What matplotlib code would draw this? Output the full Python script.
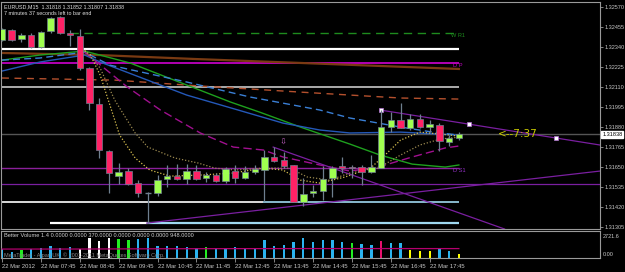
import numpy as np
import matplotlib
matplotlib.use('Agg')
import matplotlib.pyplot as plt
from matplotlib.patches import Rectangle
from matplotlib.transforms import blended_transform_factory

# ---------------- data ----------------
opens = [1.32380,1.32438,1.32386,1.32409,1.32340,1.32432,1.32513,1.32421,1.32403,1.32219,
         1.32012,1.31742,1.31598,1.31627,1.31558,1.31501,1.31501,1.31581,1.31598,1.31581,
         1.31627,1.31587,1.31604,1.31570,1.31627,1.31587,1.31621,1.31633,1.31708,1.31690,
         1.31662,1.31449,1.31501,1.31512,1.31587,1.31656,1.31650,1.31650,1.31621,1.31644,
         1.31880,1.31920,1.31874,1.31926,1.31880,1.31892,1.31794,1.31818]
highs = [1.32449,1.32443,1.32421,1.32421,1.32432,1.32513,1.32519,1.32438,1.32443,1.32225,
         1.32047,1.31748,1.31673,1.31644,1.31575,1.31507,1.31604,1.31662,1.31667,1.31667,
         1.31662,1.31621,1.31616,1.31650,1.31662,1.31656,1.31662,1.31748,1.31765,1.31736,
         1.31662,1.31587,1.31547,1.31656,1.31656,1.31708,1.31662,1.31662,1.31719,1.31978,
         1.31966,1.32018,1.31955,1.31955,1.31920,1.31903,1.31834,1.31852]
lows = [1.32375,1.32375,1.32369,1.32334,1.32334,1.32421,1.32415,1.32346,1.32208,1.31978,
        1.31702,1.31501,1.31552,1.31547,1.31478,1.31328,1.31484,1.31535,1.31575,1.31552,
        1.31575,1.31564,1.31564,1.31558,1.31558,1.31581,1.31610,1.31455,1.31679,1.31644,
        1.31449,1.31426,1.31478,1.31461,1.31478,1.31616,1.31587,1.31547,1.31616,1.31644,
        1.31851,1.31874,1.31863,1.31874,1.31851,1.31742,1.31771,1.31807]
closes = [1.32443,1.32380,1.32409,1.32340,1.32426,1.32507,1.32421,1.32409,1.32219,1.32018,
          1.31748,1.31616,1.31621,1.31552,1.31501,1.31501,1.31575,1.31598,1.31581,1.31627,
          1.31581,1.31604,1.31570,1.31639,1.31587,1.31621,1.31639,1.31708,1.31685,1.31656,
          1.31449,1.31495,1.31512,1.31581,1.31644,1.31644,1.31644,1.31621,1.31650,1.31880,
          1.31920,1.31874,1.31926,1.31880,1.31897,1.31799,1.31817,1.31838]

volumes = [900,630,800,900,970,1200,970,1130,870,1970,
           1700,1970,1900,1800,1900,2030,1230,1230,1230,1130,
           970,1130,970,970,1100,970,970,1800,1230,1300,
           1630,2030,1570,1800,1800,1630,1470,1370,1300,1700,
           1470,1470,800,700,700,1030,700,370]
vol_codes = "ccgccccc" + "wwww" + "ggcc" + "ccccc" + "g" + "cccccccccccccc" + "g" + "cc" + "m" + "cc" + "yyy" + "cc" + "y"
vol_avg_x = [0, 8, 16, 24, 32, 40, 47]
vol_avg = [900, 905, 930, 945, 950, 950, 948]

price_ticks = [1.32570,1.32455,1.32340,1.32225,1.32110,1.31995,1.31880,1.31765,1.31650,1.31535,1.31420,1.31305]
date_tick_idx = [0,4,8,12,16,20,24,28,32,36,40,44]
date_labels = ["22 Mar 2012","22 Mar 07:45","22 Mar 08:45","22 Mar 09:45","22 Mar 10:45","22 Mar 11:45",
               "22 Mar 12:45","22 Mar 13:45","22 Mar 14:45","22 Mar 15:45","22 Mar 16:45","22 Mar 17:45"]

# indicator lines (bar index, price)
ma_brown_x = [0, 10, 20, 31, 39, 47]
ma_brown = [1.32306,1.32294,1.32271,1.32248,1.32231,1.32214]
ma_green_x = [0,3.9,8.5,13.2,19.0,23.5,26.5,30.7,35.8,38.9,42.2,45.6,47]
ma_green = [1.32265,1.32294,1.32317,1.32248,1.32122,1.32024,1.31966,1.31880,1.31782,1.31719,1.31667,1.31650,1.31662]
ma_blue_x = [0,3.9,8.5,10.1,19.0,28.9,32.7,35.8,41.0,47]
ma_blue = [1.32202,1.32254,1.32294,1.32254,1.32064,1.31903,1.31863,1.31846,1.31851,1.31834]
ma_bluedash_x = [0,3.9,8.5,11.1,19.0,25.5,32.7,35.8,41.0,44.3,47]
ma_bluedash = [1.32265,1.32277,1.32311,1.32236,1.32139,1.32053,1.31978,1.31932,1.31880,1.31851,1.31834]
ma_browndash_x = [0,11.6,20.4,25.5,30.7,35.8,41.0,47]
ma_browndash = [1.32162,1.32150,1.32116,1.32099,1.32081,1.32064,1.32047,1.32041]
ma_magenta_x = [8.5,12.9,16.3,20.4,23.8,26.9,28.9,32.7,35.8,38.7,42.2,45.6,47]
ma_magenta = [1.32311,1.32110,1.31978,1.31846,1.31765,1.31748,1.31708,1.31662,1.31627,1.31650,1.31708,1.31760,1.31771]
ma_fast_x = [8.0,9.1,10.1,11.1,12.1,13.7,15.2,17.3,20.4,23.8,26.9,28.9,30.7,32.7,35.3,37.9,39.4,41.0,43.0,45.1,47]
ma_fast = [1.32340,1.32294,1.32179,1.32007,1.31834,1.31702,1.31633,1.31598,1.31604,1.31616,1.31644,1.31633,
           1.31575,1.31558,1.31593,1.31644,1.31719,1.31805,1.31851,1.31840,1.31828]
ma_slow_x = [8.5,10.1,11.6,13.7,15.0,17.8,20.2,21.9,24.0,26.9,29.6,31.4,33.7,35.8,38.7,41.0,43.0,45.1,47]
ma_slow = [1.32323,1.32219,1.32035,1.31846,1.31765,1.31702,1.31673,1.31644,1.31633,1.31644,1.31644,1.31593,
           1.31575,1.31616,1.31644,1.31719,1.31777,1.31811,1.31822]

lvl_wr1, lvl_dp, lvl_ds1 = 1.32421, 1.32248, 1.31644
lvl_white_top, lvl_gray, lvl_white_low, lvl_bottom = 1.32331, 1.32110, 1.31452, 1.31331
lvl_purple = 1.31552
bid = 1.31838

tr_up_x, tr_up = [14.9, 61.5], [1.31328, 1.31627]
tr_dn_x, tr_dn = [27.9, 51.7], [1.31765, 1.31294]
tr_hi_x, tr_hi = [38.9, 61.5], [1.31978, 1.31777]
tr_hi_marks = [39, 48, 57]

# ---------------- figure ----------------
W, H = 625, 272
FONT = ['Liberation Sans', 'DejaVu Sans']
FS = 4.1
fig = plt.figure(figsize=(6.25, 2.72), dpi=100, facecolor='black')
def fx(px): return px / W
def fy(py): return 1 - py / H

ax = fig.add_axes([fx(1), fy(229), fx(600) - fx(1), fy(2) - fy(229)], facecolor='black')
axv = fig.add_axes([fx(1), fy(258), fx(600) - fx(1), fy(231) - fy(258)], facecolor='black')
XL = (-0.1, 61.52)
for a in (ax, axv):
    a.set_xlim(*XL)
    for s in a.spines.values():
        s.set_color('#9a9a9a'); s.set_linewidth(0.8)
ax.set_ylim(1.31294, 1.32599)

n = len(opens)
idx = np.arange(n)
END = 47

# horizontal levels
ax.hlines(lvl_white_top, -0.2, END, color='white', lw=1.6, zorder=1)
ax.hlines(lvl_gray, -0.2, END, color='#c8c8c8', lw=1.2, zorder=1)
ax.hlines(lvl_white_low, -0.2, 26.9, color='white', lw=1.2, zorder=1)
ax.hlines(lvl_white_low, 26.9, END, color='#9fd8f0', lw=1.2, zorder=1)
ax.hlines(lvl_bottom, 4.9, 14.9, color='white', lw=1.6, zorder=1)
ax.hlines(lvl_bottom, 14.9, END, color='#9fd8f0', lw=1.6, zorder=1)
ax.hlines(lvl_wr1, 7, END, color='#1e8b1e', lw=1.0, linestyles=(0, (6, 4)), zorder=1)
ax.hlines(lvl_dp, -0.2, END, color='#c000c0', lw=1.3, zorder=1)
ax.hlines(lvl_ds1, -0.2, END, color='#8a1f9a', lw=1.0, zorder=1)
ax.hlines(lvl_purple, -0.2, XL[1], color='#7a1fa0', lw=0.9, zorder=1)
ax.hlines(bid, -0.2, XL[1], color='#555555', lw=1.0, zorder=1)

# moving averages
ax.plot(ma_brown_x, ma_brown, color='#7a3a12', lw=1.6, zorder=1)
ax.plot(ma_browndash_x, ma_browndash, color='#b4502d', lw=1.0, ls=(0, (5, 4)), zorder=1)
ax.plot(ma_green_x, ma_green, color='#1ea01e', lw=1.0, zorder=2)
ax.plot(ma_blue_x, ma_blue, color='#2458b8', lw=1.0, zorder=2)
ax.plot(ma_bluedash_x, ma_bluedash, color='#3a7fd5', lw=1.0, ls=(0, (5, 3)), zorder=2)
ax.plot(ma_magenta_x, ma_magenta, color='#a0108f', lw=1.0, ls=(0, (6, 3)), zorder=2)
ax.plot(ma_fast_x, ma_fast, color='#d8c050', lw=0.9, ls=(0, (1, 1.5)), zorder=4)
ax.plot(ma_slow_x, ma_slow, color='#9c8a50', lw=0.9, ls=(0, (1, 1.5)), zorder=4)

# trendlines
ax.plot(tr_up_x, tr_up, color='#7a1fa0', lw=0.9, zorder=2)
ax.plot(tr_dn_x, tr_dn, color='#7a1fa0', lw=0.9, zorder=2)
ax.plot(tr_hi_x, tr_hi, color='#7a1fa0', lw=0.9, zorder=2)
mark_p = [tr_hi[0] + (m - tr_hi_x[0]) * (tr_hi[1] - tr_hi[0]) / (tr_hi_x[1] - tr_hi_x[0]) for m in tr_hi_marks]
ax.plot(tr_hi_marks, mark_p, ls='none', marker='s', ms=2.2, mfc='white', mec='#b070d0', mew=0.5, zorder=5)

# candles
BULL, BEAR, WICK = '#a0ff50', '#ff2266', '#6e7f8f'
bw = 0.66
for i in range(n):
    o, h, l, c = opens[i], highs[i], lows[i], closes[i]
    ax.vlines(i, l, h, color=WICK, lw=0.9, zorder=6)
    if abs(c - o) < 1e-6:
        ax.hlines(o, i - bw / 2, i + bw / 2, color=WICK, lw=1.0, zorder=7)
    else:
        col = BULL if c > o else BEAR
        ax.add_patch(Rectangle((i - bw / 2, min(o, c)), bw, abs(c - o), facecolor=col,
                               edgecolor=WICK, lw=0.5, zorder=7))

# labels on chart
ax.text(46.2, lvl_wr1, 'W R1', color='#1e8b1e', fontsize=FS, family=FONT, va='top', ha='left', zorder=8)
ax.text(46.4, lvl_dp, 'D P', color='#c000c0', fontsize=FS, family=FONT, va='top', ha='left', zorder=8)
ax.text(46.4, lvl_ds1, 'D S1', color='#9932cc', fontsize=FS, family=FONT, va='top', ha='left', zorder=8)
ax.text(51.0, bid, '<--7:37', color='#cccc00', fontsize=7.5, family='DejaVu Sans', va='center', ha='left', zorder=8)
ax.text(28.9, 1.31794, '\u21e9', color='#c060c0', fontsize=6, family='DejaVu Sans', va='center', ha='center', zorder=8)

# price axis
ax.yaxis.tick_right()
ax.set_yticks(price_ticks)
ax.set_yticklabels([f"{p:.5f}" for p in price_ticks], family=FONT)
ax.tick_params(axis='y', colors='#9a9a9a', labelcolor='#c8c8c8', length=2.5, width=0.6, pad=0.5, labelsize=4.0)
ax.set_xticks([])
tr = blended_transform_factory(ax.transAxes, ax.transData)
ax.text(1.0035, bid, f"{closes[-1]:.5f}", transform=tr, fontsize=4.0, family=FONT, color='black',
        va='center', ha='left', zorder=9,
        bbox=dict(boxstyle='square,pad=0.15', facecolor='white', edgecolor='white'), clip_on=False)

# volume panel
vcmap = {'c': '#2ab4f0', 'g': '#22ee22', 'w': '#ffffff', 'm': '#e8106e', 'y': '#ffff00'}
axv.bar(idx, volumes, width=0.24, color=[vcmap[k] for k in vol_codes], zorder=2)
axv.plot(vol_avg_x, vol_avg, color='#b4006e', lw=0.9, zorder=3)
axv.set_ylim(0, 2721.6)
axv.set_yticks([])
axv.set_xticks(date_tick_idx)
axv.set_xticklabels(date_labels, family=FONT, ha='left')
axv.tick_params(axis='x', colors='#9a9a9a', labelcolor='#c8c8c8', length=3, width=0.6, pad=1.5, labelsize=4.2)

fig.text(fx(603), fy(236), '2721.6', color='#c8c8c8', fontsize=4.0, family=FONT, va='center', ha='left')
fig.text(fx(603), fy(255), '0.00', color='#c8c8c8', fontsize=4.0, family=FONT, va='center', ha='left')

# header texts
fig.text(fx(4), fy(7), f"EURUSD,M15  {opens[-1]:.5f} {highs[-1]:.5f} {lows[-1]:.5f} {closes[-1]:.5f}",
         color='#e0e0e0', fontsize=3.9, family=FONT, va='center', ha='left')
fig.text(fx(4), fy(13.5), "7 minutes 37 seconds left to bar end",
         color='#e0e0e0', fontsize=3.9, family=FONT, va='center', ha='left')
fig.text(fx(4), fy(235.5), "Better Volume 1.4 0.0000 0.0000 370.0000 0.0000 0.0000 0.0000 948.0000",
         color='#d0d0d0', fontsize=4.1, family=FONT, va='center', ha='left')
fig.text(fx(4), fy(255), "MetaTrader - Alpari UK, \u00a9 2001-2011 MetaQuotes Software Corp.",
         color='#8a8a8a', fontsize=4.0, family=FONT, va='center', ha='left', zorder=10)

fig.savefig('out.png', dpi=100, facecolor='black')
